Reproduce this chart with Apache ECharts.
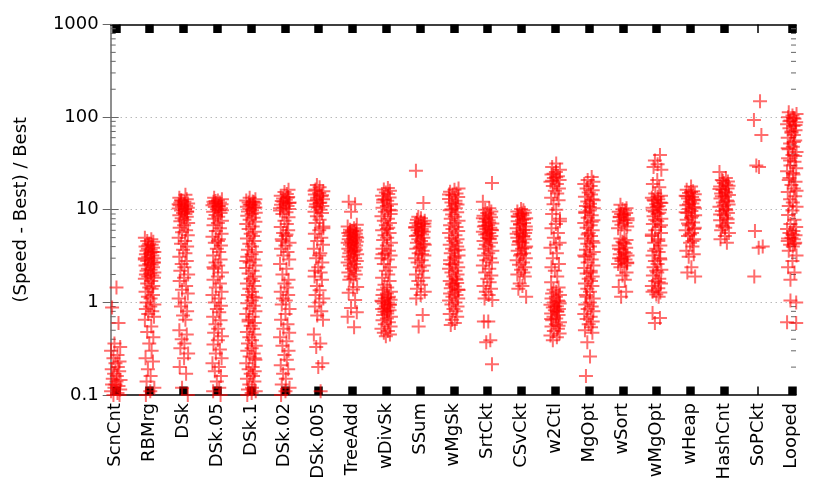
<!DOCTYPE html>
<html>
<head>
<meta charset="utf-8">
<script src="https://cdn.jsdelivr.net/npm/echarts@6/dist/echarts.min.js"></script>
<style>
  html, body { margin: 0; padding: 0; background: #fff; }
  #chart { width: 830px; height: 498px; }
</style>
</head>
<body>
<div id="chart"></div>
<script>
// categories along the x axis
const categories = ["ScnCnt", "RBMrg", "DSk", "DSk.05", "DSk.1", "DSk.02", "DSk.005", "TreeAdd", "wDivSk", "SSum",
  "wMgSk", "SrtCkt", "CSvCkt", "w2Ctl", "MgOpt", "wSort", "wMgOpt", "wHeap", "HashCnt", "SoPCkt", "Looped"];

// (Speed - Best) / Best, one list per category
const scnCnt = [1.45, 0.88, 0.6, 0.36, 0.33, 0.3, 0.27, 0.25, 0.23, 0.22, 0.2, 0.19, 0.18, 0.17, 0.16, 0.15, 0.145, 0.14, 0.13, 0.125, 0.12, 0.115, 0.11, 0.105, 0.1, 0.1, 0.13];
const rbMrg = [5.0, 4.8, 4.6, 4.5, 4.3, 4.2, 4.0, 3.9, 3.8, 3.7, 3.6, 3.5, 3.4, 3.3, 3.2, 3.1, 3.0, 2.9, 2.85, 2.8, 2.7, 2.6, 2.55, 2.5, 2.4, 2.3, 2.25, 2.2, 2.1, 2.05, 2.0, 1.95, 1.9, 1.85, 1.8, 1.7, 1.6, 1.5, 1.45, 1.4, 1.3, 1.2, 1.15, 1.1, 1.0, 0.95, 0.9, 0.85, 0.8, 0.75, 0.7, 0.65, 0.55, 0.48, 0.42, 0.36, 0.3, 0.25, 0.23, 0.19, 0.16, 0.14, 0.12, 0.11, 0.1, 3.5, 4.1, 2.7, 3.0];
const dSk = [14.5, 13.5, 13, 12.5, 12.2, 12, 11.7, 11.4, 11.2, 11, 10.8, 10.5, 10.3, 10, 9.8, 9.5, 9.2, 9, 8.7, 8.4, 8.1, 7.8, 7.5, 7.2, 6.8, 6.4, 6.0, 5.7, 5.3, 5.0, 4.6, 4.3, 4.0, 3.7, 3.4, 3.1, 2.8, 2.6, 2.4, 2.2, 2.0, 1.85, 1.7, 1.5, 1.37, 1.25, 1.1, 1.0, 0.9, 0.8, 0.72, 0.65, 0.5, 0.45, 0.4, 0.36, 0.32, 0.28, 0.25, 0.2, 0.17, 0.12, 0.1, 11.5, 10.2, 12.7, 9.6];
const dSk05 = [13.5, 13, 12.6, 12.2, 12, 11.8, 11.5, 11.2, 11, 10.7, 10.4, 10.1, 9.8, 9.5, 9.2, 8.8, 8.4, 8, 7.6, 7.2, 6.8, 6.3, 5.9, 5.5, 5.1, 4.8, 4.4, 4.1, 3.8, 3.5, 3.2, 2.9, 2.7, 2.5, 2.3, 2.1, 1.9, 1.75, 1.6, 1.45, 1.3, 1.2, 1.1, 1.0, 0.92, 0.85, 0.78, 0.7, 0.64, 0.58, 0.52, 0.47, 0.43, 0.39, 0.35, 0.31, 0.28, 0.25, 0.22, 0.2, 0.18, 0.16, 0.14, 0.12, 0.11, 0.1, 12.4, 10.9, 11.6, 9.9, 4.6, 2.4];
const dSk1 = [13.5, 13, 12.6, 12.3, 12, 11.7, 11.4, 11.1, 10.8, 10.5, 10.2, 9.9, 9.6, 9.3, 9, 8.6, 8.2, 7.8, 7.4, 7, 6.6, 6.2, 5.8, 5.5, 5.2, 4.9, 4.6, 4.3, 4.0, 3.7, 3.5, 3.3, 3.1, 2.9, 2.7, 2.5, 2.35, 2.2, 2.05, 1.9, 1.8, 1.7, 1.6, 1.5, 1.4, 1.3, 1.2, 1.12, 1.05, 0.98, 0.92, 0.86, 0.8, 0.75, 0.7, 0.65, 0.6, 0.56, 0.52, 0.48, 0.45, 0.42, 0.39, 0.36, 0.34, 0.32, 0.3, 0.28, 0.26, 0.24, 0.22, 0.2, 0.19, 0.18, 0.17, 0.16, 0.15, 0.14, 0.13, 0.12, 0.115, 0.11, 0.105, 0.1, 12.1, 11.3, 10.6, 2.8, 1.15, 0.62, 0.25];
const dSk02 = [16.4, 15.5, 14.8, 14.2, 13.7, 13.2, 12.8, 12.4, 12, 11.6, 11.3, 11, 10.6, 10.2, 9.8, 9.4, 9, 8.3, 7.6, 7, 6.5, 6.0, 5.6, 5.2, 4.8, 4.4, 4.1, 3.8, 3.5, 3.2, 2.9, 2.6, 2.3, 2.0, 1.75, 1.6, 1.45, 1.3, 1.2, 1.1, 1.05, 0.95, 0.85, 0.75, 0.65, 0.58, 0.52, 0.47, 0.42, 0.38, 0.34, 0.3, 0.27, 0.24, 0.21, 0.19, 0.17, 0.15, 0.13, 0.12, 0.11, 0.1, 13.5, 12.2, 11.8, 10.4, 5.4, 4.6];
const dSk005 = [18.5, 17.5, 16.5, 15.8, 15.2, 14.6, 14, 13.5, 13, 12.5, 12, 11.5, 11, 10.5, 10, 9.5, 9.2, 8.5, 7.8, 7.2, 6.6, 6.0, 5.5, 5.0, 4.6, 4.2, 3.8, 3.4, 3.0, 2.7, 2.4, 2.1, 1.9, 1.75, 1.5, 1.35, 1.2, 1.1, 1.0, 0.9, 0.8, 0.72, 0.65, 0.45, 0.36, 0.33, 0.22, 0.2, 0.11, 16, 14.3, 12.8, 11.8, 10.8, 6.3, 3.2, 2.2];
const treeAdd = [12.2, 11.5, 9.5, 6.9, 6.6, 6.3, 6.1, 6.0, 5.9, 5.8, 5.6, 5.5, 5.4, 5.3, 5.2, 5.0, 4.9, 4.8, 4.7, 4.6, 4.5, 4.4, 4.3, 4.2, 4.1, 4.0, 3.9, 3.8, 3.7, 3.6, 3.5, 3.4, 3.3, 3.2, 3.1, 3.0, 2.9, 2.8, 2.7, 2.6, 2.5, 2.4, 2.3, 2.2, 2.1, 2.0, 1.9, 1.8, 1.75, 1.47, 1.38, 1.27, 1.06, 0.87, 0.78, 0.7, 0.54, 5.7, 5.1, 4.4, 3.6];
const wDivSk = [17.2, 16.5, 16, 15.4, 14.8, 14.2, 13.6, 13, 12.5, 12, 11.5, 11, 10.5, 10, 9.5, 9, 8.5, 8, 7.6, 7.2, 6.8, 6.4, 6, 5.6, 5.3, 5, 4.7, 4.4, 4.1, 3.8, 3.6, 3.4, 3.2, 3.0, 2.9, 2.6, 2.4, 2.2, 2.0, 1.85, 1.7, 1.55, 1.45, 1.37, 1.3, 1.25, 1.2, 1.15, 1.1, 1.07, 1.04, 1.0, 0.97, 0.94, 0.91, 0.88, 0.85, 0.82, 0.79, 0.76, 0.73, 0.7, 0.67, 0.64, 0.61, 0.58, 0.55, 0.52, 0.49, 0.47, 0.45, 0.43, 1.12, 1.02, 0.95, 0.86, 0.8, 12.8, 9.8, 6.2, 3.3];
const sSum = [26.4, 11.8, 8.4, 8.1, 7.8, 7.6, 7.4, 7.2, 7.0, 6.8, 6.6, 6.4, 6.2, 6.0, 5.8, 5.6, 5.4, 5.2, 5.0, 4.8, 4.6, 4.4, 4.2, 4.0, 3.8, 3.6, 3.4, 3.2, 3.0, 2.85, 2.7, 2.5, 2.4, 2.2, 2.0, 1.85, 1.7, 1.55, 1.4, 1.3, 1.2, 1.1, 0.73, 0.55, 7.1, 6.5, 5.9, 5.3, 4.3, 3.9, 3.3];
const wMgSk = [17, 16.4, 15.6, 15, 14.3, 13.7, 13.1, 12.5, 12, 11.4, 10.9, 10.4, 9.9, 9.4, 8.9, 8.4, 8, 7.6, 7.2, 6.8, 6.5, 6.2, 5.9, 5.6, 5.3, 5.0, 4.8, 4.6, 4.4, 4.2, 4.0, 3.8, 3.6, 3.4, 3.2, 3.0, 2.85, 2.7, 2.55, 2.4, 2.3, 2.2, 2.1, 2.0, 1.9, 1.8, 1.7, 1.62, 1.55, 1.48, 1.42, 1.36, 1.3, 1.25, 1.2, 1.15, 1.1, 1.05, 1.0, 0.95, 0.9, 0.85, 0.8, 0.75, 0.7, 0.65, 0.6, 0.57, 3.7, 3.1, 2.6, 1.75, 1.6, 1.38, 14.6, 11.7, 10.1];
const srtCkt = [19.5, 12.2, 10.4, 10, 9.6, 9.2, 8.9, 8.6, 8.3, 8.0, 7.7, 7.4, 7.1, 6.8, 6.6, 6.4, 6.2, 6.0, 5.8, 5.6, 5.4, 5.2, 5.0, 4.8, 4.6, 4.4, 4.2, 4.0, 3.8, 3.6, 3.4, 3.2, 3.0, 2.85, 2.7, 2.5, 2.3, 2.1, 1.95, 1.8, 1.65, 1.5, 1.4, 1.3, 1.2, 1.1, 1.06, 0.62, 0.62, 0.39, 0.37, 0.215, 8.1, 7.3, 6.7, 6.1, 5.5, 4.9];
const cSvCkt = [10.2, 9.9, 9.6, 9.3, 9.0, 8.7, 8.4, 8.1, 7.8, 7.5, 7.2, 6.9, 6.6, 6.3, 6.0, 5.8, 5.6, 5.4, 5.2, 5.0, 4.8, 4.6, 4.4, 4.2, 4.0, 3.8, 3.6, 3.4, 3.2, 3.0, 2.85, 2.7, 2.55, 2.4, 2.25, 2.1, 2.0, 1.9, 1.6, 1.5, 1.4, 1.15, 9.1, 8.5, 7.9, 7.0, 6.1, 5.5, 5.1, 4.5, 3.9, 3.3];
const w2Ctl = [31.6, 29, 27, 25.5, 24, 23, 22, 21, 20, 19, 18, 17, 16, 15, 13.5, 12.7, 11.5, 10, 9, 8, 7, 6.3, 5.6, 5.0, 4.4, 3.9, 3.4, 3.0, 2.6, 2.2, 1.9, 1.65, 1.45, 1.37, 1.3, 1.25, 1.2, 1.15, 1.1, 1.05, 1.0, 0.97, 0.94, 0.91, 0.88, 0.85, 0.82, 0.79, 0.76, 0.73, 0.7, 0.67, 0.64, 0.61, 0.58, 0.55, 0.52, 0.49, 0.46, 0.44, 0.42, 0.39, 1.02, 0.9, 0.8, 0.66, 0.56, 24.5, 22.5, 20.5, 7.5, 4.2, 2.4];
const mgOpt = [22.6, 21, 20, 19, 18, 17, 16.2, 15.4, 14.6, 13.8, 13, 12.3, 11.6, 11, 10.4, 9.8, 9.2, 8.7, 8.2, 7.7, 7.2, 6.8, 6.4, 6, 5.6, 5.2, 4.9, 4.6, 4.3, 4.0, 3.7, 3.5, 3.3, 3.1, 2.9, 2.7, 2.5, 2.35, 2.2, 2.05, 1.9, 1.8, 1.7, 1.6, 1.5, 1.4, 1.3, 1.2, 1.1, 1.0, 0.95, 0.9, 0.85, 0.8, 0.75, 0.7, 0.66, 0.62, 0.58, 0.54, 0.5, 0.47, 0.37, 0.26, 0.16, 12.7, 10.7, 9.5, 7.4, 5.4, 4.4, 3.2, 2.1, 1.15];
const wSort = [11.3, 10.4, 10.1, 9.8, 9.5, 9.2, 9.0, 8.7, 8.4, 8.1, 7.8, 7.5, 7.2, 6.9, 6.6, 6.3, 6.0, 4.9, 4.7, 4.5, 4.3, 4.1, 3.9, 3.7, 3.5, 3.3, 3.2, 3.1, 3.0, 2.9, 2.8, 2.7, 2.6, 2.5, 2.4, 2.1, 1.95, 1.75, 1.47, 1.3, 1.15, 8.9, 8.3, 7.7, 4.4, 3.8, 3.4, 2.95, 2.65];
const wMgOpt = [39, 34, 31, 29, 27, 21, 19, 17.5, 15, 14.2, 13.5, 13, 12.5, 12, 11.5, 11, 10.5, 10, 9.5, 9, 8.5, 8, 7.5, 7, 6.5, 6, 5.6, 5.2, 4.8, 4.4, 4.1, 3.8, 3.5, 3.2, 3.0, 2.8, 2.6, 2.4, 2.25, 2.1, 1.95, 1.8, 1.7, 1.6, 1.5, 1.42, 1.35, 1.28, 1.22, 1.15, 0.77, 0.68, 0.6, 13.8, 12.8, 11.8, 10.8, 9.8, 9.3, 7.8, 6.8, 5.4, 4.6, 3.6, 2.9, 2.2, 1.65, 1.3];
const wHeap = [17.8, 16.4, 15.8, 15.2, 14.7, 14.2, 13.7, 13.2, 12.7, 12.2, 11.7, 11.2, 10.7, 10.2, 9.7, 9.2, 8.7, 8.2, 7.8, 7.3, 6.8, 6.4, 6.0, 5.6, 5.2, 4.8, 4.4, 4.0, 3.6, 3.3, 3.1, 2.4, 2.1, 1.9, 15.5, 14, 12.9, 11.5, 10.4, 9.4, 8.5, 7.1, 6.2, 5.4, 4.6];
const hashCnt = [25.6, 22, 21, 20.2, 19.4, 18.6, 17.8, 17, 16.3, 15.6, 15, 14.4, 13.8, 13.2, 12.6, 12, 11.4, 10.8, 10.2, 9.7, 9.2, 8.7, 8.2, 7.7, 7.2, 6.8, 6.4, 6.0, 5.6, 5.2, 4.8, 4.4, 20.5, 18.2, 16.7, 15.3, 14, 12.3, 11.1, 9.9, 8.9, 7.9, 6.6];
const soPCkt = [148, 93, 64, 30, 29, 5.9, 4.0, 3.9, 1.9];
const looped = [113, 108, 104, 100, 96, 92, 88, 84, 80, 76, 72, 68, 64, 60, 56, 52, 48, 45, 42, 39, 36, 33, 30, 28, 26, 24, 22, 20, 18.5, 17, 15.5, 14, 13, 12, 11, 10.8, 9.8, 8.8, 7.8, 7, 6.5, 6.2, 5.9, 5.6, 5.3, 5.0, 4.8, 4.6, 4.4, 4.2, 4.0, 3.6, 3.2, 2.8, 2.4, 2.1, 1.75, 1.0, 0.61, 98, 90, 82, 70, 54, 46, 38, 34, 25, 21, 16, 5.4, 4.9, 4.3, 1.05, 0.6];

const columns = [scnCnt, rbMrg, dSk, dSk05, dSk1, dSk02, dSk005, treeAdd, wDivSk, sSum,
  wMgSk, srtCkt, cSvCkt, w2Ctl, mgOpt, wSort, wMgOpt, wHeap, hashCnt, soPCkt, looped];

// fixed horizontal spread of the points inside a column (in category units)
const jitter = [0.02, -0.11, 0.08, -0.04, 0.13, -0.14, 0.05, -0.07, 0.11, -0.01, 0.06, -0.12, 0.1, -0.05, 0.03, -0.09, 0.14];

// log minor tick values on the y axis
const minorTicks = [];
[0.1, 1, 10, 100].forEach(d => { for (let k = 2; k <= 9; k++) minorTicks.push(+(d * k).toPrecision(3)); });

const points = [];
columns.forEach((vals, i) => {
  vals.forEach((v, j) => points.push([i + jitter[(j + 5 * i) % jitter.length], v]));
});

const FONT = 'DejaVu Sans';
// plus marker, 14 wide, arms 2 thick
const plus = 'path://M6,0h2v6h6v2h-6v6h-2v-6h-6v-2h6z';
const soPIndex = categories.indexOf('SoPCkt');

const chart = echarts.init(document.getElementById('chart'), null, { renderer: 'canvas' });
chart.setOption({
  animation: false,
  textStyle: { fontFamily: FONT },
  grid: [
    { left: 110.7, right: 34, top: 24.5, bottom: 103 },
    { left: 115.8, right: 38.2, top: 24.5, bottom: 103 }
  ],
  xAxis: [
    { gridIndex: 0, type: 'value', min: 0, max: 1, position: 'bottom',
      axisLine: { onZero: false, lineStyle: { color: '#000', width: 1.5 } },
      axisTick: { show: false }, axisLabel: { show: false }, splitLine: { show: false } },
    { gridIndex: 0, type: 'value', min: 0, max: 1, position: 'top',
      axisLine: { onZero: false, lineStyle: { color: '#000', width: 1.5 } },
      axisTick: { show: false }, axisLabel: { show: false }, splitLine: { show: false } },
    { gridIndex: 1, type: 'category', data: categories, boundaryGap: false, position: 'bottom',
      axisLine: { show: false, onZero: false },
      axisTick: { inside: true, length: 8.5, interval: (i) => i !== soPIndex, lineStyle: { color: '#000', width: 8.5 } },
      axisLabel: { interval: 0, rotate: 90, margin: 8, fontSize: 18, color: '#000', fontFamily: FONT } },
    { gridIndex: 1, type: 'category', data: categories, boundaryGap: false, position: 'top',
      axisLine: { show: false, onZero: false },
      axisTick: { inside: true, length: 8.5, interval: (i) => i !== soPIndex, lineStyle: { color: '#000', width: 8.5 } },
      axisLabel: { show: false } },
    { gridIndex: 1, type: 'category', data: categories, boundaryGap: false, position: 'bottom',
      axisLine: { show: false, onZero: false },
      axisTick: { inside: true, length: 8.5, interval: (i) => i === soPIndex, lineStyle: { color: '#000', width: 1.5 } },
      axisLabel: { show: false } },
    { gridIndex: 1, type: 'category', data: categories, boundaryGap: false, position: 'top',
      axisLine: { show: false, onZero: false },
      axisTick: { inside: true, length: 8.5, interval: (i) => i === soPIndex, lineStyle: { color: '#000', width: 1.5 } },
      axisLabel: { show: false } },
    { gridIndex: 1, type: 'value', min: 0, max: categories.length - 1, show: false }
  ],
  yAxis: [
    { gridIndex: 0, type: 'log', logBase: 10, min: 0.1, max: 1000, position: 'left',
      name: '(Speed - Best) / Best', nameLocation: 'middle', nameGap: 80, nameRotate: 90,
      nameTextStyle: { fontSize: 18, color: '#000', fontFamily: FONT },
      axisLine: { lineStyle: { color: '#888', width: 1.5 } },
      axisTick: { inside: true, length: 8, lineStyle: { color: '#666', width: 1 } },
      axisLabel: { margin: 12, fontSize: 18, color: '#000', fontFamily: FONT,
        formatter: v => String(+(+v).toPrecision(3)) },
      splitLine: { show: true, showMinLine: false, showMaxLine: false,
        lineStyle: { color: '#999', type: [1, 4], width: 1 } } },
    { gridIndex: 0, type: 'log', logBase: 10, min: 0.1, max: 1000, position: 'right',
      axisLine: { lineStyle: { color: '#888', width: 1.5 } },
      axisTick: { inside: true, length: 8, lineStyle: { color: '#666', width: 1 } },
      axisLabel: { show: false }, splitLine: { show: false } },
    { gridIndex: 1, type: 'log', logBase: 10, min: 0.1, max: 1000, show: false }
  ],
  series: [
    {
      type: 'custom', xAxisIndex: 0, yAxisIndex: 0, silent: true, clip: false, z: 1,
      data: minorTicks.map(v => [0, v]),
      encode: { x: 0, y: 1 },
      renderItem: (params, api) => {
        const cs = params.coordSys;
        const y = api.coord([0, api.value(1)])[1];
        const st = { stroke: '#666', lineWidth: 1 };
        return { type: 'group', children: [
          { type: 'line', shape: { x1: cs.x, y1: y, x2: cs.x + 5, y2: y }, style: st },
          { type: 'line', shape: { x1: cs.x + cs.width - 5, y1: y, x2: cs.x + cs.width, y2: y }, style: st }
        ] };
      }
    },
    {
      type: 'scatter', xAxisIndex: 6, yAxisIndex: 2, silent: true, clip: false, z: 3,
      symbol: plus, symbolSize: 14,
      itemStyle: { color: 'rgba(255,0,0,0.72)' },
      data: points
    }
  ]
});
</script>
</body>
</html>
